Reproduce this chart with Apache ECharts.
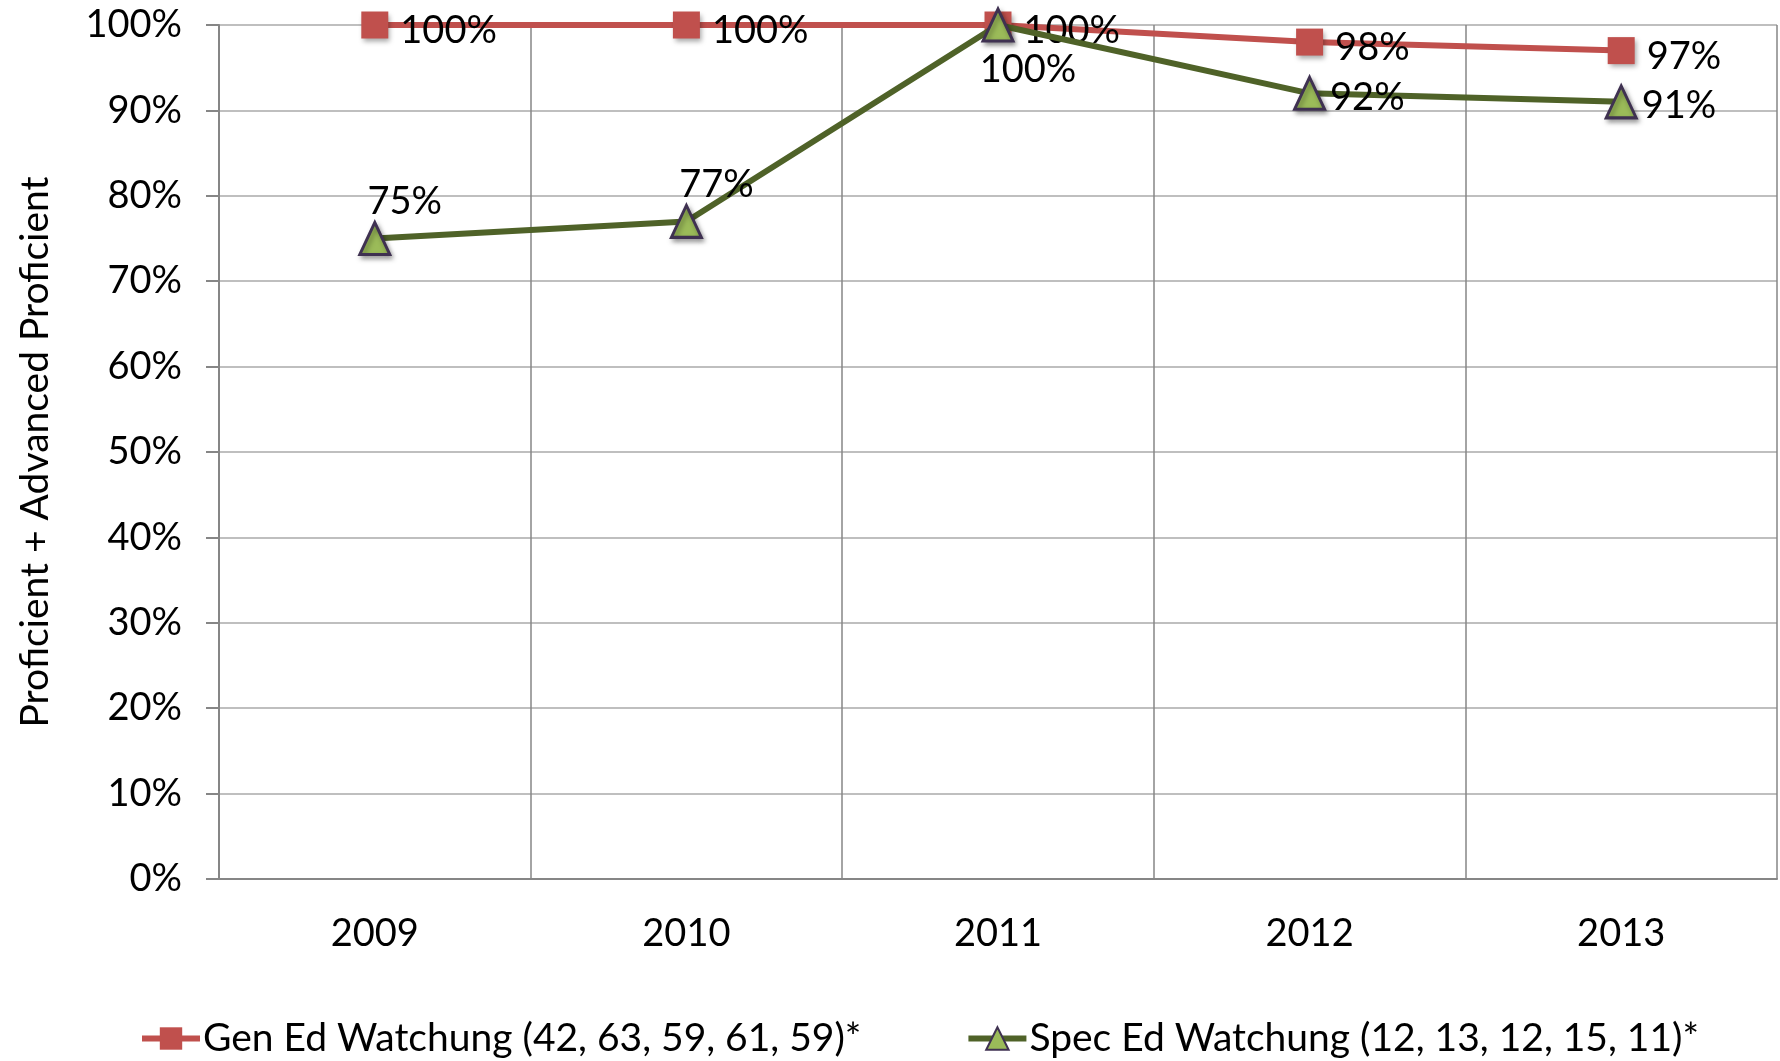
<!DOCTYPE html>
<html>
<head>
<meta charset="utf-8">
<script src="https://cdn.jsdelivr.net/npm/echarts@6/dist/echarts.min.js"></script>
<style>
  html, body { margin: 0; padding: 0; background: #fff; }
  #chart-container { width: 1780px; height: 1061px; }
</style>
</head>
<body>
<div id="chart-container"></div>
<script>
const years = ["2009", "2010", "2011", "2012", "2013"]
const genEd = [1.00, 1.00, 1.00, 0.98, 0.97]
const specEd = [0.75, 0.77, 1.00, 0.92, 0.91]
const genEdName = "Gen Ed Watchung (42, 63, 59, 61, 59)*"
const specEdName = "Spec Ed Watchung (12, 13, 12, 15, 11)*"

const specLabelPos = ["top", "top", "bottom", "right", "right"]

const fontFamily = "Lato, 'Open Sans', sans-serif"
const fontSize = 38

var dom = document.getElementById("chart-container")
var myChart = echarts.init(dom, null, { renderer: "canvas" })

const pct = (v) => Math.round(v * 100) + "%"

const commonLabel = {
  show: true,
  color: "#000",
  fontFamily,
  fontSize,
  formatter: (p) => pct(p.value)
}

const markerShadow = {
  shadowColor: "rgba(0,0,0,0.35)",
  shadowBlur: 5,
  shadowOffsetX: 2,
  shadowOffsetY: 3
}

var option = {
  animation: false,
  textStyle: { fontFamily },
  grid: {
    left: 219,
    right: 3,
    top: 25,
    bottom: 182,
    outerBoundsMode: "none"
  },
  legend: {
    left: 134,
    bottom: -2,
    itemWidth: 58,
    itemHeight: 28,
    itemGap: 104,
    lineStyle: { width: 6 },
    textStyle: { fontSize: 39, color: "#000", fontFamily, padding: [0, 0, 0, -2] },
    data: [genEdName, specEdName]
  },
  xAxis: {
    type: "category",
    data: years,
    boundaryGap: true,
    axisLine: { lineStyle: { color: "#868686", width: 2 } },
    axisTick: { length: 14, lineStyle: { color: "#868686", width: 2 } },
    splitLine: { show: true, lineStyle: { color: "#868686", width: 1.5 } },
    axisLabel: { color: "#000", fontSize, fontFamily, margin: 36 }
  },
  yAxis: {
    type: "value",
    min: 0,
    max: 1,
    interval: 0.1,
    name: "Proficient + Advanced Proficient",
    nameLocation: "middle",
    nameGap: 164,
    nameTextStyle: { color: "#000", fontSize: 39, fontFamily },
    axisLine: { show: true, lineStyle: { color: "#868686", width: 2 } },
    axisTick: { show: true, length: 13, lineStyle: { color: "#868686", width: 2 } },
    splitLine: { lineStyle: { color: "#BFBFBF", width: 2 } },
    axisLabel: {
      color: "#000",
      fontSize,
      fontFamily,
      margin: 37,
      formatter: (v) => pct(v)
    }
  },
  series: [
    {
      name: genEdName,
      type: "line",
      data: genEd,
      symbol: "rect",
      symbolSize: 27,
      lineStyle: { color: "#C0504D", width: 6 },
      itemStyle: { color: "#C0504D", ...markerShadow },
      label: { ...commonLabel, position: "right", distance: 12, offset: [0, 6] },
      z: 2
    },
    {
      name: specEdName,
      type: "line",
      data: specEd.map((v, i) => ({
        value: v,
        label: {
          position: specLabelPos[i],
          offset: specLabelPos[i] === "right" ? [0, 4] : [30, 4]
        }
      })),
      symbol: "triangle",
      symbolSize: [30, 32],
      lineStyle: { color: "#4F6228", width: 6 },
      itemStyle: {
        color: "#9BBB59",
        borderColor: "#3F3151",
        borderWidth: 3,
        ...markerShadow
      },
      label: { ...commonLabel, distance: 4 },
      z: 3
    }
  ]
}

myChart.setOption(option)
window.addEventListener("resize", myChart.resize)
</script>
</body>
</html>
